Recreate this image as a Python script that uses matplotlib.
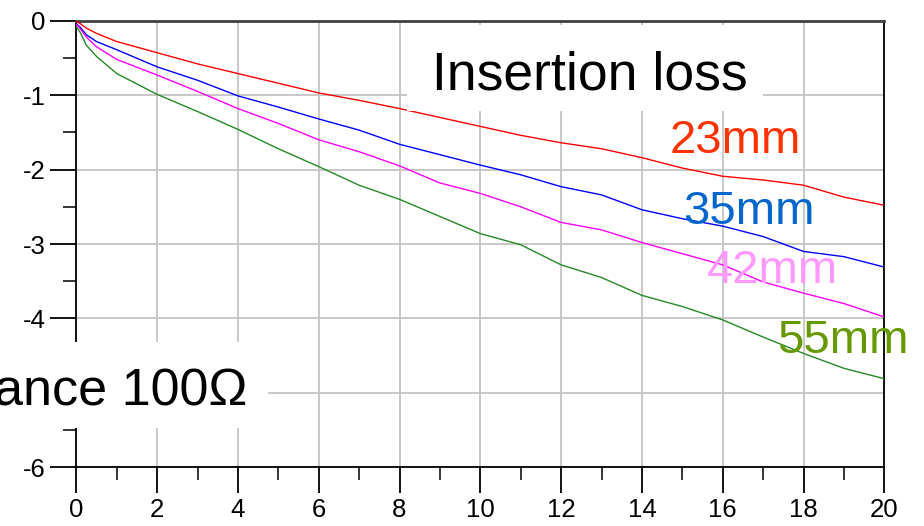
import matplotlib
matplotlib.use("Agg")
import matplotlib.pyplot as plt
from matplotlib.patches import Rectangle
from matplotlib.ticker import MultipleLocator

plt.rcParams["font.family"] = ["Liberation Sans", "DejaVu Sans"]
plt.rcParams["axes.unicode_minus"] = False

# Frequency (GHz) and insertion loss (dB) for four trace lengths
freq = [0, 0.1, 0.25, 0.5, 1, 2, 3, 4, 5, 6, 7, 8, 9, 10,
        11, 12, 13, 14, 15, 16, 17, 18, 19, 20]
loss_23mm = [-0.01, -0.04, -0.10, -0.17, -0.28, -0.43, -0.58, -0.71, -0.84, -0.97,
             -1.07, -1.18, -1.30, -1.42, -1.54, -1.64, -1.72, -1.84, -1.98, -2.09,
             -2.14, -2.21, -2.37, -2.48]
loss_35mm = [-0.04, -0.09, -0.19, -0.28, -0.39, -0.62, -0.80, -1.01, -1.16, -1.32,
             -1.47, -1.66, -1.80, -1.94, -2.07, -2.23, -2.34, -2.54, -2.66, -2.76,
             -2.90, -3.10, -3.17, -3.31]
loss_42mm = [-0.05, -0.11, -0.22, -0.35, -0.52, -0.73, -0.95, -1.18, -1.38, -1.60,
             -1.76, -1.95, -2.18, -2.32, -2.50, -2.71, -2.81, -2.98, -3.13, -3.28,
             -3.51, -3.66, -3.80, -3.98]
loss_55mm = [-0.08, -0.16, -0.33, -0.48, -0.71, -0.99, -1.22, -1.46, -1.72, -1.96,
             -2.21, -2.40, -2.63, -2.86, -3.01, -3.28, -3.45, -3.69, -3.84, -4.02,
             -4.25, -4.47, -4.67, -4.81]

x_ticks = [0, 2, 4, 6, 8, 10, 12, 14, 16, 18, 20]
y_ticks = [0, -1, -2, -3, -4, -5, -6]
y_tick_labels = ["0", "-1", "-2", "-3", "-4", "", "-6"]

series = [
    ("23mm", loss_23mm, "#ff0000", "#ff3300"),
    ("35mm", loss_35mm, "#0000ff", "#0066cc"),
    ("42mm", loss_42mm, "#ff00ff", "#ff99ff"),
    ("55mm", loss_55mm, "#228b22", "#669900"),
]

W, H = 924, 526
fig = plt.figure(figsize=(W / 100, H / 100), dpi=100)
ax = fig.add_axes([76.3 / W, 1 - 467.3 / H, 808 / W, 446.6 / H])

for name, vals, lc, _ in series:
    ax.plot(freq, vals, color=lc, lw=1.0, zorder=3)

ax.set_xlim(0, 20)
ax.set_ylim(-6, 0)
ax.set_xticks(x_ticks)
ax.set_xticklabels([str(t) for t in x_ticks], fontsize=18.5)
ax.set_yticks(y_ticks)
ax.set_yticklabels(y_tick_labels, fontsize=18.5)
ax.xaxis.set_minor_locator(MultipleLocator(1))
ax.yaxis.set_minor_locator(MultipleLocator(0.5))
ax.grid(True, which="major", color="#c4c4c4", lw=1.3, zorder=0)

ax.tick_params(which="major", length=19, width=1.3, color="black", direction="out")
ax.tick_params(which="minor", length=9.5, width=1.1, color="black", direction="out")
ax.tick_params(axis="x", which="major", pad=3)
ax.tick_params(axis="y", which="major", pad=3)

for side in ("left", "bottom", "right"):
    ax.spines[side].set_color("black")
    ax.spines[side].set_linewidth(1.3)
ax.spines["top"].set_color("#404040")
ax.spines["top"].set_linewidth(2.0)

# Curve labels
label_pos = {"23mm": (670, 153), "35mm": (683, 224), "42mm": (707, 283), "55mm": (777, 353)}
for name, _, _, tc in series:
    px, py = label_pos[name]
    fig.text(px / W, 1 - py / H, name, color=tc, fontsize=34,
             ha="left", va="baseline", zorder=6)

# Title box
fig.patches.append(Rectangle((407 / W, 1 - 111 / H), (763 - 407) / W, (111 - 25) / H,
                             transform=fig.transFigure, facecolor="white",
                             edgecolor="none", zorder=5))
fig.text(432 / W, 1 - 90 / H, "Insertion loss", fontsize=38.5, color="black",
         ha="left", va="baseline", zorder=6)

# Impedance note box on the left edge
fig.patches.append(Rectangle((0, 1 - 428 / H), 268 / W, (428 - 342) / H,
                             transform=fig.transFigure, facecolor="white",
                             edgecolor="none", zorder=5))
fig.text(247 / W, 1 - 405 / H, "ance 100\u03a9", fontsize=37.5, color="black",
         ha="right", va="baseline", zorder=6)

fig.savefig("out.png", dpi=100)
